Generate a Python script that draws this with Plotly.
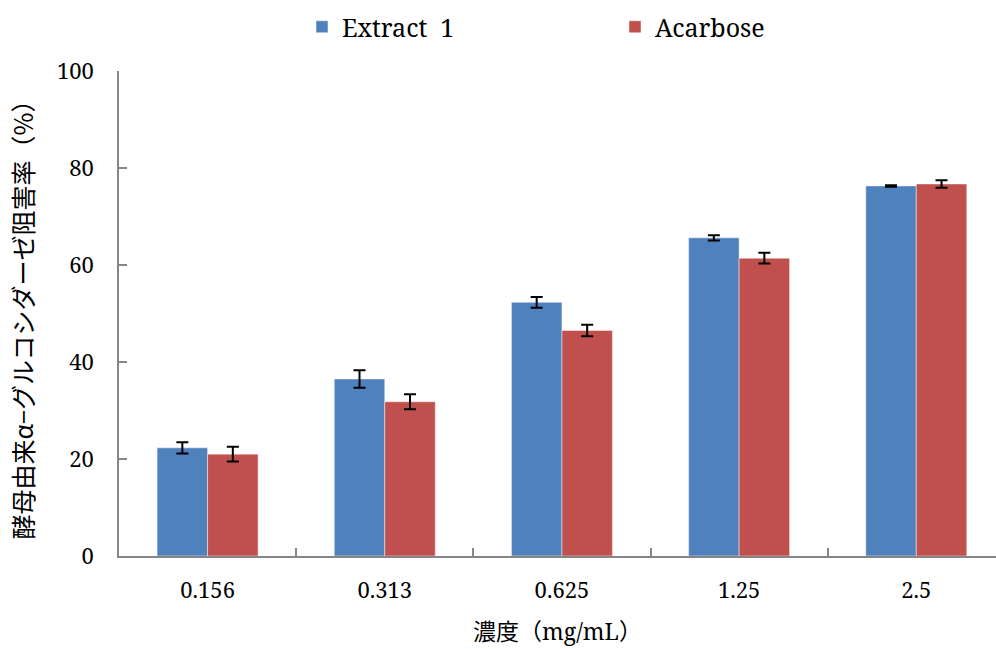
import plotly.graph_objects as go

categories = ["0.156", "0.313", "0.625", "1.25", "2.5"]
extract_vals = [22.3, 36.5, 52.3, 65.6, 76.3]
extract_err = [1.15, 1.8, 1.1, 0.55, 0.15]
acarbose_vals = [21.0, 31.8, 46.5, 61.4, 76.7]
acarbose_err = [1.5, 1.55, 1.2, 1.1, 0.75]
y_ticks = [0, 20, 40, 60, 80, 100]

FONT = "Noto Serif, Noto Sans CJK JP, serif"

fig = go.Figure()
fig.add_trace(go.Bar(
    x=categories, y=extract_vals, name="Extract\u00a0\u00a01",
    marker=dict(color="#4F81BD", line=dict(color="rgba(255,255,255,0.45)", width=1)),
    error_y=dict(type="data", array=extract_err, visible=True, color="black", thickness=2, width=6),
))
fig.add_trace(go.Bar(
    x=categories, y=acarbose_vals, name="Acarbose",
    marker=dict(color="#C0504D", line=dict(color="rgba(255,255,255,0.45)", width=1)),
    error_y=dict(type="data", array=acarbose_err, visible=True, color="black", thickness=2, width=6),
))

axis_line = "#868686"
fig.update_layout(
    width=996, height=649,
    margin=dict(l=119, r=0, t=71, b=93, pad=0, autoexpand=False),
    paper_bgcolor="white", plot_bgcolor="white",
    font=dict(family=FONT, size=22, color="black"),
    barmode="group", bargap=0.43, bargroupgap=0,
    showlegend=True,
    legend=dict(
        orientation="h", x=(302 - 119) / 877, xanchor="left",
        y=1 + (71 - 27) / 485, yanchor="middle",
        entrywidth=268, entrywidthmode="pixels",
        font=dict(family=FONT, size=25, color="black"),
        bgcolor="rgba(0,0,0,0)", traceorder="normal",
    ),
    xaxis=dict(
        type="category", range=[-0.5, 4.45],
        showline=True, linecolor=axis_line, linewidth=1.5,
        ticks="inside", tickson="boundaries", ticklen=8, tickcolor=axis_line, tickwidth=1.5,
        showgrid=False, zeroline=False,
        ticklabelstandoff=14,
        tickfont=dict(family=FONT, size=22),
        title=dict(text="濃度（mg/mL）", font=dict(family=FONT, size=23), standoff=21),
    ),
    yaxis=dict(
        range=[0, 100], tickvals=y_ticks,
        showline=True, linecolor=axis_line, linewidth=1.5,
        ticks="inside", ticklen=8, tickcolor=axis_line, tickwidth=1.5,
        showgrid=False, zeroline=False,
        ticklabelstandoff=19,
        tickfont=dict(family=FONT, size=22),
        title=dict(text="\u00a0\u00a0\u00a0酵母由来α−グルコシダーゼ阻害率（%）", font=dict(family="Noto Sans CJK JP, Noto Serif, serif", size=25), standoff=16),
    ),
)

fig.write_html("out.html")
